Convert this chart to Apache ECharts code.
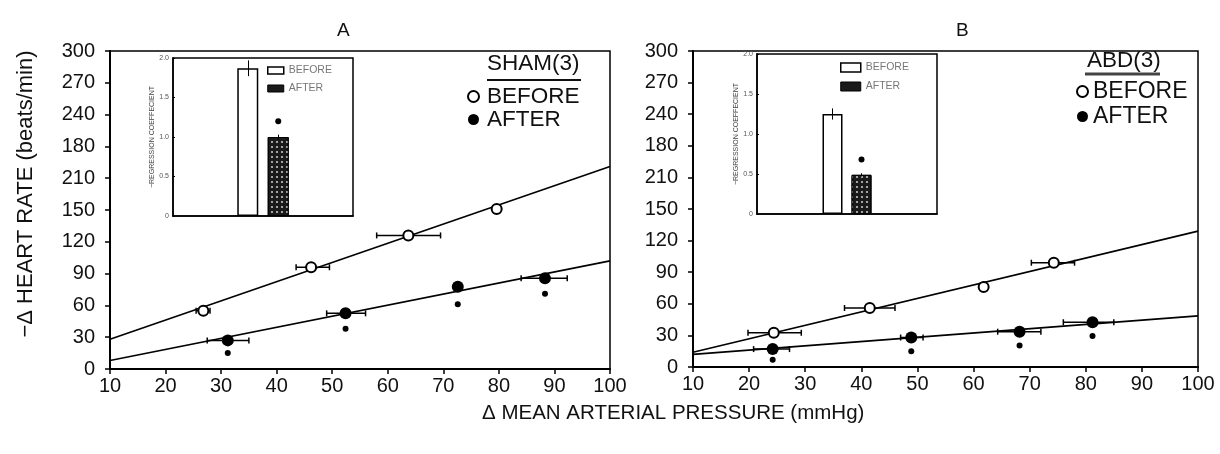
<!DOCTYPE html>
<html>
<head>
<meta charset="utf-8">
<script src="https://cdn.jsdelivr.net/npm/echarts@6/dist/echarts.min.js"></script>
<style>
  html, body { margin: 0; padding: 0; background: #fff; }
  #chart { width: 1220px; height: 454px; }
</style>
</head>
<body>
<div id="chart"></div>
<script>
// y tick labels as printed (180 / 210 are swapped in the original figure)
const yTickLabels = ['0', '30', '60', '90', '120', '150', '210', '180', '240', '270', '300'];

// panel A (SHAM)
const aBeforeX = [26.8, 46.2, 63.7, 79.6];
const aBeforeY = [55, 96, 126, 151];
const aBeforeLo = [25.5, 43.5, 58, 79.6];
const aBeforeHi = [28, 49.5, 69.5, 79.6];
const aAfterX = [31.2, 52.4, 72.6, 88.3];
const aAfterY = [27, 52.5, 77.5, 85.5];
const aAfterLo = [27.5, 49, 72.6, 84];
const aAfterHi = [35, 56, 72.6, 92.3];
const aStarY = [15, 38, 61, 71];
const aFitBefore = [[10, 28], [100, 191]];
const aFitAfter = [[10, 8], [100, 102]];

// panel B (ABD)
const bBeforeX = [24.4, 41.5, 61.8, 74.3];
const bBeforeY = [32.5, 56, 76, 99];
const bBeforeLo = [19.8, 37, 61.8, 70.3];
const bBeforeHi = [29.3, 46, 61.8, 78];
const bAfterX = [24.2, 48.9, 68.2, 81.2];
const bAfterY = [17, 28, 33.5, 42.5];
const bAfterLo = [20.8, 47, 64.3, 76];
const bAfterHi = [27.2, 51, 72, 85];
const bStarY = [7, 15, 20.5, 29.5];
const bFitBefore = [[10, 14], [100, 129]];
const bFitAfter = [[10, 12], [100, 48.5]];

// insets: regression coefficient
const insetA = { before: 1.87, beforeErr: 0.1, after: 1.0, afterErr: 0.03, star: 1.2 };
const insetB = { before: 1.25, beforeErr: 0.07, after: 0.49, afterErr: 0.02, star: 0.68 };

const FONT = 'Liberation Sans, Arial, sans-serif';

var chartDom = document.getElementById('chart');
var myChart = echarts.init(chartDom);

function zip(xs, ys) {
    return xs.map((x, i) => [x, ys[i]]);
}

function mainAxes(gi) {
    return {
        x: {
            type: 'value', gridIndex: gi, min: 10, max: 100, interval: 10,
            axisLine: { lineStyle: { color: '#000', width: 2 } },
            axisTick: { length: 5, lineStyle: { color: '#000', width: 1.5 } },
            axisLabel: { color: '#111', fontSize: 20, fontFamily: FONT, margin: 7 },
            splitLine: { show: false }
        },
        y: {
            type: 'value', gridIndex: gi, min: 0, max: 300, interval: 30,
            axisLine: { show: true, lineStyle: { color: '#000', width: 2 } },
            axisTick: { show: true, length: 5, lineStyle: { color: '#000', width: 1.5 } },
            axisLabel: {
                color: '#111', fontSize: 20, fontFamily: FONT, margin: 15,
                formatter: (v) => yTickLabels[Math.round(v / 30)]
            },
            splitLine: { show: false }
        }
    };
}

function insetAxes(gi) {
    return {
        x: {
            type: 'category', gridIndex: gi, data: ['R'],
            axisLine: { lineStyle: { color: '#000', width: 1.5 } },
            axisTick: { show: false },
            axisLabel: { show: false }
        },
        y: {
            type: 'value', gridIndex: gi, min: 0, max: 2, interval: 0.5,
            name: '\u2212REGRESSION COEFFECIENT', nameLocation: 'middle', nameRotate: 90, nameGap: 17,
            nameTextStyle: { fontSize: 7, color: '#444', fontFamily: FONT },
            axisLine: { show: true, lineStyle: { color: '#000', width: 1.5 } },
            axisTick: { show: true, inside: true, length: 2, lineStyle: { color: '#000' } },
            axisLabel: {
                fontSize: 7, color: '#555', fontFamily: FONT, margin: 4,
                formatter: (v) => v === 0 ? '0' : v.toFixed(1)
            },
            splitLine: { show: false }
        }
    };
}

function errSeries(xi, yi, lo, hi, y) {
    return {
        type: 'custom', xAxisIndex: xi, yAxisIndex: yi, z: 2, silent: true,
        data: lo.map((l, i) => [l, hi[i], y[i]]),
        encode: { x: [0, 1], y: 2 },
        renderItem: function (params, api) {
            if (api.value(0) === api.value(1)) return null;
            const a = api.coord([api.value(0), api.value(2)]);
            const b = api.coord([api.value(1), api.value(2)]);
            const st = { stroke: '#000', lineWidth: 1.5 };
            return {
                type: 'group',
                children: [
                    { type: 'line', shape: { x1: a[0], y1: a[1], x2: b[0], y2: b[1] }, style: st },
                    { type: 'line', shape: { x1: a[0], y1: a[1] - 3, x2: a[0], y2: a[1] + 3 }, style: st },
                    { type: 'line', shape: { x1: b[0], y1: b[1] - 3, x2: b[0], y2: b[1] + 3 }, style: st }
                ]
            };
        }
    };
}

function fitSeries(xi, yi, pts) {
    return {
        type: 'line', xAxisIndex: xi, yAxisIndex: yi, data: pts, symbol: 'none', silent: true, z: 1,
        lineStyle: { color: '#000', width: 1.6 }
    };
}

function beforeSeries(xi, yi, xs, ys) {
    return {
        name: 'BEFORE', type: 'scatter', xAxisIndex: xi, yAxisIndex: yi, z: 4,
        data: zip(xs, ys), symbol: 'circle', symbolSize: 10,
        itemStyle: { color: '#fff', borderColor: '#000', borderWidth: 2, opacity: 1 }
    };
}

function afterSeries(xi, yi, xs, ys) {
    return {
        name: 'AFTER', type: 'scatter', xAxisIndex: xi, yAxisIndex: yi, z: 4,
        data: zip(xs, ys), symbol: 'circle', symbolSize: 12,
        itemStyle: { color: '#000', opacity: 1 }
    };
}

function starSeries(xi, yi, xs, ys) {
    return {
        type: 'scatter', xAxisIndex: xi, yAxisIndex: yi, z: 4, silent: true,
        data: zip(xs, ys), symbol: 'circle', symbolSize: 6,
        itemStyle: { color: '#000', opacity: 1 }
    };
}

function insetBars(xi, yi, d, bw) {
    const errLine = (v, e) => ({
        silent: true, symbol: ['none', 'none'], animation: false,
        lineStyle: { color: '#000', width: 1, type: 'solid' }, label: { show: false },
        data: [[{ coord: [0, v - e] }, { coord: [0, v + e] }]]
    });
    return [
        {
            name: 'BEFORE', type: 'bar', xAxisIndex: xi, yAxisIndex: yi, data: [d.before],
            barWidth: bw, barGap: '45%', z: 3,
            itemStyle: { color: '#fff', borderColor: '#000', borderWidth: 1.5 },
            markLine: errLine(d.before, d.beforeErr)
        },
        {
            name: 'AFTER', type: 'bar', xAxisIndex: xi, yAxisIndex: yi, data: [d.after],
            barWidth: bw, z: 3,
            itemStyle: {
                color: '#1a1a1a', borderColor: '#000', borderWidth: 1,
                decal: {
                    symbol: 'circle', symbolSize: 0.55, color: 'rgba(255,255,255,0.75)',
                    dashArrayX: [4, 1], dashArrayY: [4, 1], rotation: 0
                }
            },
            markLine: errLine(d.after, d.afterErr),
            markPoint: {
                silent: true, symbol: 'circle', symbolSize: 6, label: { show: false },
                itemStyle: { color: '#000' },
                data: [{ coord: [0, d.star] }]
            }
        }
    ];
}

const axA = mainAxes(0), axB = mainAxes(1), axIA = insetAxes(2), axIB = insetAxes(3);

const legendText = { fontSize: 22.5, color: '#111', fontFamily: FONT, padding: [0, 0, 0, 3] };

var option = {
    backgroundColor: '#fff',
    animation: false,
    textStyle: { fontFamily: FONT },
    title: [
        { text: 'A', left: 332, top: 16, textStyle: { fontSize: 19, fontWeight: 'normal', color: '#111' } },
        { text: 'B', left: 951, top: 16, textStyle: { fontSize: 19, fontWeight: 'normal', color: '#111' } },
        { text: '\u0394 MEAN ARTERIAL PRESSURE (mmHg)', left: 477, top: 398,
          textStyle: { fontSize: 20.5, fontWeight: 'normal', color: '#111' } }
    ],
    grid: [
        { left: 110, top: 51, width: 500, height: 318, show: true, borderColor: '#000', borderWidth: 1.5, backgroundColor: '#fff' },
        { left: 693, top: 51, width: 505, height: 316, show: true, borderColor: '#000', borderWidth: 1.5, backgroundColor: '#fff' },
        { left: 173, top: 58, width: 180, height: 158, show: true, borderColor: '#000', borderWidth: 1.5, backgroundColor: '#fff' },
        { left: 757, top: 54, width: 180, height: 160, show: true, borderColor: '#000', borderWidth: 1.5, backgroundColor: '#fff' }
    ],
    xAxis: [axA.x, axB.x, axIA.x, axIB.x],
    yAxis: [axA.y, axB.y, axIA.y, axIB.y],
    legend: [
        {
            orient: 'vertical', left: 467, top: 85, itemWidth: 11, itemHeight: 11, itemGap: 0, padding: 0,
            selectedMode: false,
            data: [{ name: 'BEFORE', icon: 'circle' }, { name: 'AFTER', icon: 'circle' }],
            textStyle: legendText
        },
        {
            orient: 'vertical', left: 1076, top: 80, itemWidth: 11, itemHeight: 11, itemGap: 2, padding: 0,
            selectedMode: false,
            data: [{ name: 'BEFORE', icon: 'circle' }, { name: 'AFTER', icon: 'circle' }],
            textStyle: Object.assign({}, legendText, { fontSize: 23, padding: [0, 0, 0, 0] })
        },
        {
            orient: 'vertical', left: 267, top: 65, itemWidth: 16, itemHeight: 7, itemGap: 7, padding: 0,
            selectedMode: false,
            data: [
                { name: 'BEFORE', icon: 'rect', itemStyle: { color: '#fff', borderColor: '#000', borderWidth: 1.5 } },
                { name: 'AFTER', icon: 'rect', itemStyle: { color: '#1a1a1a', borderColor: '#000', borderWidth: 1 } }
            ],
            textStyle: { fontSize: 10.5, color: '#777', fontFamily: FONT }
        },
        {
            orient: 'vertical', left: 840, top: 62, itemWidth: 20, itemHeight: 9, itemGap: 8, padding: 0,
            selectedMode: false,
            data: [
                { name: 'BEFORE', icon: 'rect', itemStyle: { color: '#fff', borderColor: '#000', borderWidth: 1.5 } },
                { name: 'AFTER', icon: 'rect', itemStyle: { color: '#1a1a1a', borderColor: '#000', borderWidth: 1 } }
            ],
            textStyle: { fontSize: 10.5, color: '#777', fontFamily: FONT }
        }
    ],
    graphic: [
        {
            type: 'text', x: 26, y: 194, rotation: Math.PI / 2,
            style: { text: '\u2212\u0394 HEART RATE (beats/min)', fontSize: 22, fill: '#111', fontFamily: FONT,
                     textAlign: 'center', textVerticalAlign: 'middle' }
        },
        {
            type: 'text', x: 487, y: 64,
            style: { text: 'SHAM(3)', fontSize: 22.5, fill: '#111', fontFamily: FONT, textVerticalAlign: 'middle' }
        },
        { type: 'line', shape: { x1: 487, y1: 80, x2: 581, y2: 80 }, style: { stroke: '#111', lineWidth: 2 } },
        {
            type: 'text', x: 1087, y: 61,
            style: { text: 'ABD(3)', fontSize: 22.5, fill: '#111', fontFamily: FONT, textVerticalAlign: 'middle' }
        },
        { type: 'line', shape: { x1: 1085, y1: 74, x2: 1160, y2: 74 }, style: { stroke: '#444', lineWidth: 3 } }
    ],
    series: [
        fitSeries(0, 0, aFitBefore),
        fitSeries(0, 0, aFitAfter),
        errSeries(0, 0, aBeforeLo, aBeforeHi, aBeforeY),
        errSeries(0, 0, aAfterLo, aAfterHi, aAfterY),
        beforeSeries(0, 0, aBeforeX, aBeforeY),
        afterSeries(0, 0, aAfterX, aAfterY),
        starSeries(0, 0, aAfterX, aStarY),

        fitSeries(1, 1, bFitBefore),
        fitSeries(1, 1, bFitAfter),
        errSeries(1, 1, bBeforeLo, bBeforeHi, bBeforeY),
        errSeries(1, 1, bAfterLo, bAfterHi, bAfterY),
        beforeSeries(1, 1, bBeforeX, bBeforeY),
        afterSeries(1, 1, bAfterX, bAfterY),
        starSeries(1, 1, bAfterX, bStarY),

        ...insetBars(2, 2, insetA, 21),
        ...insetBars(3, 3, insetB, 20)
    ]
};

option && myChart.setOption(option);
</script>
</body>
</html>
